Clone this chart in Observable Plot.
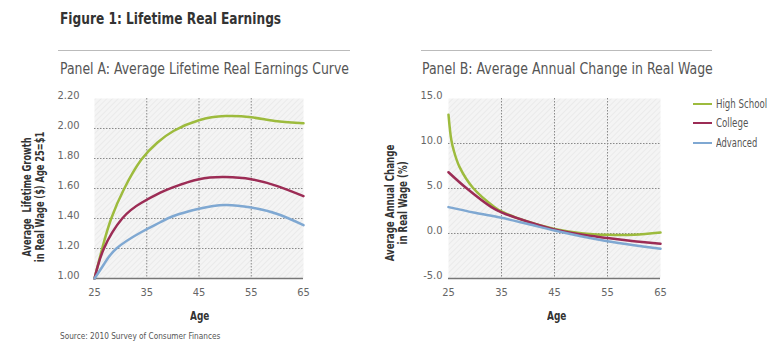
<!DOCTYPE html>
<html><head><meta charset="utf-8">
<script src="https://cdn.jsdelivr.net/npm/d3@7"></script>
<script src="https://cdn.jsdelivr.net/npm/@observablehq/plot@0.6"></script>
<style>
body{margin:0;background:#fff;}
#page{position:relative;width:773px;height:353px;overflow:hidden;font-family:"Liberation Sans Narrow","DejaVu Sans Condensed",sans-serif;color:#444;}
.abs{position:absolute;white-space:nowrap;}
.title{left:60px;top:9px;font-size:16px;font-weight:bold;color:#333;}
.rule{height:0;border-top:1.5px solid #bbb;}
.ptitle{font-size:16px;color:#555;top:59px;}
.ylab{font-size:12px;font-weight:bold;color:#333;text-align:center;line-height:13px;}
.age{font-size:12px;font-weight:bold;color:#333;top:309px;}
.src{left:60px;top:331px;font-size:9px;color:#555;}
.leg{font-size:12px;color:#555;left:716px;}
.sw{left:693px;width:19px;height:0;border-top:2.5px solid;}
.plot{position:absolute;}
</style></head>
<body>
<svg width="0" height="0" style="position:absolute">
  <defs>
    <pattern id="hatch" patternUnits="userSpaceOnUse" width="4" height="4" patternTransform="rotate(45)">
      <rect width="4" height="4" fill="#f4f4f4"></rect>
      <line x1="0" y1="0" x2="0" y2="4" stroke="#e4e4e4" stroke-width="1.2"></line>
    </pattern>
  </defs>
</svg>
<div id="page">
  <div class="abs title" data-w="221">Figure 1: Lifetime Real Earnings</div>
  <div class="abs rule" style="left:58px;top:50px;width:292px;"></div>
  <div class="abs rule" style="left:421px;top:50px;width:291px;"></div>
  <div class="abs ptitle" style="left:60px;" data-w="289">Panel A: Average Lifetime Real Earnings Curve</div>
  <div class="abs ptitle" style="left:422px;" data-w="291">Panel B: Average Annual Change in Real Wage</div>
  <div id="plotA" class="plot" style="left:0;top:85px;"></div>
  <div id="plotB" class="plot" style="left:380px;top:85px;"></div>
  <div class="abs ylab" id="ylabA" data-cx="34" data-cy="197" data-w="130">Average&nbsp; Lifetime Growth<br>in Real Wage ($) Age 25=$1</div>
  <div class="abs ylab" id="ylabB" data-cx="397" data-cy="203" data-w="117">Average Annual Change<br>in Real Wage (%)</div>
  <div class="abs age" data-cx="199" data-w="19">Age</div>
  <div class="abs age" data-cx="556" data-w="19">Age</div>
  <div class="abs src" data-w="160">Source: 2010 Survey of Consumer Finances</div>
  <div id="legend"></div>
</div>
<script>
const seriesNames = ["High School", "College", "Advanced"];
const seriesColors = ["#9dbb3d", "#9c2c55", "#7fa8d2"];
const legendWidths = [51, 32, 41];
const xTicks = [25, 35, 45, 55, 65];
const yTicksA = [1.0, 1.2, 1.4, 1.6, 1.8, 2.0, 2.2];
const yTicksB = [-5, 0, 5, 10, 15];

// Panel A: average lifetime real earnings (age 25 = $1)
const hsAgeA  = [25, 26.47, 28.2, 30.7, 33.9, 37, 40.2, 45, 50, 55, 60, 65];
const hsValA  = [1.00, 1.20, 1.40, 1.60, 1.79, 1.905, 1.985, 2.055, 2.083, 2.075, 2.048, 2.035];
const colAgeA = [25, 26.8, 30.3, 34, 37.6, 40, 45, 50, 55, 60, 65];
const colValA = [1.00, 1.20, 1.40, 1.505, 1.572, 1.608, 1.662, 1.676, 1.662, 1.616, 1.549];
const advAgeA = [25, 26.8, 29.2, 34, 37.6, 40, 45, 50, 55, 60, 65];
const advValA = [1.00, 1.095, 1.20, 1.31, 1.375, 1.415, 1.465, 1.49, 1.473, 1.43, 1.356];

// Panel B: average annual change in real wage (%)
const hsAgeB  = [25, 25.5, 26, 27.1, 29.6, 33.7, 35, 40, 45, 50, 55, 60, 65];
const hsValB  = [13.2, 10.5, 9.2, 7.37, 5.08, 2.93, 2.45, 1.3, 0.5, 0.04, -0.15, -0.15, 0.1];
const colAgeB = [25, 28.3, 33.1, 35, 40, 45, 50, 55, 60, 65];
const colValB = [6.81, 5.08, 2.93, 2.35, 1.3, 0.45, -0.12, -0.5, -0.85, -1.15];
const advAgeB = [25, 30, 35, 40, 45, 50, 55, 60, 65];
const advValB = [2.93, 2.3, 1.75, 1.05, 0.33, -0.3, -0.85, -1.3, -1.7];

function tidy(series, ages, vals) { return ages.map((a, i) => ({series, age: a, value: vals[i]})); }
const dataA = [
  ...tidy(seriesNames[0], hsAgeA, hsValA),
  ...tidy(seriesNames[1], colAgeA, colValA),
  ...tidy(seriesNames[2], advAgeA, advValA)
];
const dataB = [
  ...tidy(seriesNames[0], hsAgeB, hsValB),
  ...tidy(seriesNames[1], colAgeB, colValB),
  ...tidy(seriesNames[2], advAgeB, advValB)
];

const font = '"Liberation Sans Narrow","DejaVu Sans Condensed",sans-serif';

function panel(data, opts) {
  return Plot.plot({
    width: opts.width, height: 240,
    marginLeft: opts.ml, marginRight: opts.mr, marginTop: 13, marginBottom: 47,
    x: {domain: [25, 65]},
    y: {domain: opts.ydomain},
    color: {domain: seriesNames, range: seriesColors},
    style: {fontFamily: font, fontSize: "11px", color: "#666", background: "transparent", overflow: "visible"},
    marks: [
      Plot.frame({fill: "url(#hatch)", stroke: null}),
      Plot.gridY(opts.yticks.filter(d => d > opts.ydomain[0] && d < opts.ydomain[1]), {stroke: "#8a8a8a", strokeOpacity: 1, strokeDasharray: "1.5,1.5"}),
      Plot.gridX([35, 45, 55], {stroke: "#8a8a8a", strokeOpacity: 1, strokeDasharray: "1.5,1.5"}),
      Plot.ruleY([opts.ydomain[0]], {stroke: "#777", strokeWidth: 1.5}),
      Plot.axisY(opts.yticks, {tickSize: 0, tickPadding: opts.pad, tickFormat: opts.fmt, label: null, dy: -3, fill: "#666"}),
      Plot.axisX(xTicks, {tickSize: 0, tickPadding: 10, label: null, fill: "#666"}),
      Plot.line(data, {x: "age", y: "value", stroke: "series", curve: opts.curve, strokeWidth: 2.5})
    ]
  });
}

document.getElementById("plotA").append(panel(dataA, {width: 320, ml: 94, mr: 17, ydomain: [1, 2.2], yticks: yTicksA, pad: 15, fmt: d => d.toFixed(2), curve: "natural"}));
document.getElementById("plotB").append(panel(dataB, {width: 300, ml: 68, mr: 20, ydomain: [-5, 15], yticks: yTicksB, pad: 6, fmt: d => d.toFixed(1), curve: "catmull-rom"}));

const legend = document.getElementById("legend");
const legY = [104, 123, 143];
seriesNames.forEach((n, i) => {
  const sw = document.createElement("div");
  sw.className = "abs sw";
  sw.style.top = (legY[i] - 1) + "px";
  sw.style.borderTopColor = seriesColors[i];
  legend.append(sw);
  const t = document.createElement("div");
  t.className = "abs leg";
  t.dataset.cy = legY[i];
  t.dataset.w = legendWidths[i];
  t.textContent = n;
  legend.append(t);
});

// fit text widths to the reference's narrow typeface
document.querySelectorAll("[data-w]").forEach(el => {
  const w = el.offsetWidth, h = el.offsetHeight;
  const s = (+el.dataset.w) / w;
  if (el.classList.contains("ylab")) {
    el.style.left = (+el.dataset.cx - w / 2) + "px";
    el.style.top = (+el.dataset.cy - h / 2) + "px";
    el.style.transformOrigin = "50% 50%";
    el.style.transform = `rotate(-90deg) scaleX(${s})`;
  } else if (el.dataset.cx) {
    el.style.left = (+el.dataset.cx - w / 2) + "px";
    el.style.transformOrigin = "50% 50%";
    el.style.transform = `scaleX(${s})`;
  } else {
    if (el.dataset.cy) el.style.top = (+el.dataset.cy - h / 2) + "px";
    el.style.transformOrigin = "0 50%";
    el.style.transform = `scaleX(${s})`;
  }
});
</script>
</body></html>
